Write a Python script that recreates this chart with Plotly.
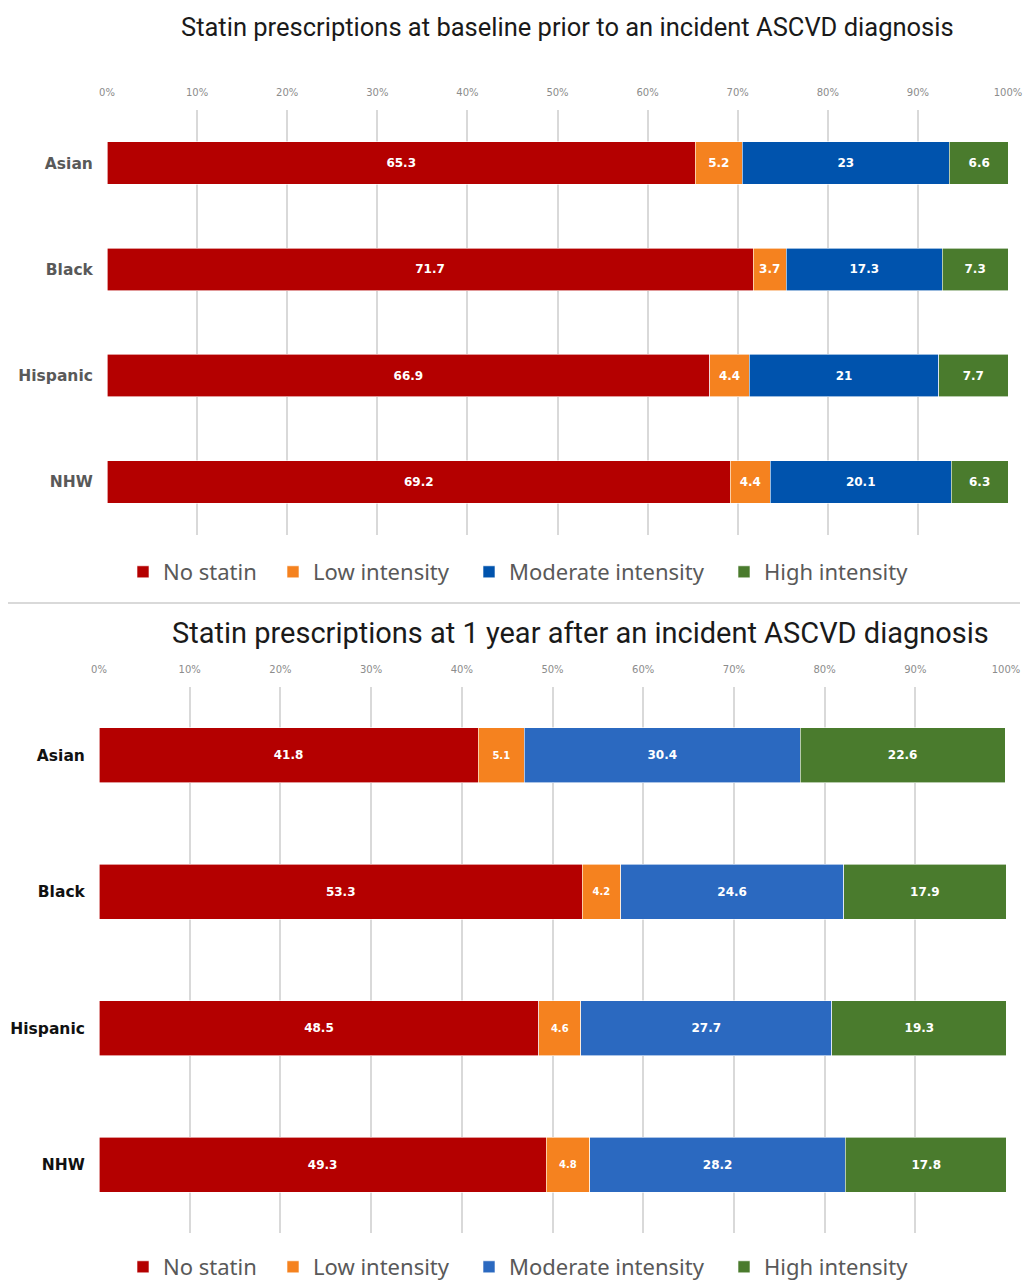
import plotly.graph_objects as go

W, H = 1024, 1283

groups = ["Asian", "Black", "Hispanic", "NHW"]
series_names = ["No statin", "Low intensity", "Moderate intensity", "High intensity"]

# Baseline (prior to incident ASCVD diagnosis), percent
baseline = {
    "No statin": [65.3, 71.7, 66.9, 69.2],
    "Low intensity": [5.2, 3.7, 4.4, 4.4],
    "Moderate intensity": [23, 17.3, 21, 20.1],
    "High intensity": [6.6, 7.3, 7.7, 6.3],
}

# One year after incident ASCVD diagnosis, percent
one_year = {
    "No statin": [41.8, 53.3, 48.5, 49.3],
    "Low intensity": [5.1, 4.2, 4.6, 4.8],
    "Moderate intensity": [30.4, 24.6, 27.7, 28.2],
    "High intensity": [22.6, 17.9, 19.3, 17.8],
}

x_ticks = list(range(0, 101, 10))
x_tick_labels = [f"{t}%" for t in x_ticks]

colors_top = {"No statin": "#b40000", "Low intensity": "#f5821f",
              "Moderate intensity": "#0053ad", "High intensity": "#4a7b2d"}
colors_bottom = {"No statin": "#b40000", "Low intensity": "#f5821f",
                 "Moderate intensity": "#2b69c0", "High intensity": "#4a7b2d"}

title_top = "Statin prescriptions at baseline prior to an incident ASCVD diagnosis"
title_bottom = "Statin prescriptions at 1 year after an incident ASCVD diagnosis"

# left edge (px) of each legend swatch, one legend box per entry
legend_swatch_x = [142, 292, 488, 743]


def px_x(p):
    return p / W


def px_y(p):
    return 1 - p / H


fig = go.Figure()
legend_layout = {}

for panel, (data, colors, xa, ya, leg_y) in enumerate([
        (baseline, colors_top, "x", "y", 572),
        (one_year, colors_bottom, "x2", "y2", 1267)]):
    for i, name in enumerate(series_names):
        leg_key = f"legend{panel * 4 + i + 2}"
        size = 10 if (panel == 1 and name == "Low intensity") else 12
        fig.add_trace(go.Bar(
            y=groups, x=data[name], orientation="h", name=name,
            marker=dict(color=colors[name], line=dict(color="white", width=0.6)),
            text=[f"{v:g}" for v in data[name]],
            textposition="inside", insidetextanchor="middle",
            textfont=dict(family="DejaVu Sans", size=size, color="white",
                          weight="bold"),
            xaxis=xa, yaxis=ya, legend=leg_key, showlegend=True,
        ))
        legend_layout[leg_key] = dict(
            orientation="h", x=px_x(legend_swatch_x[i] - 19), xanchor="left",
            xref="container", yref="container",
            y=px_y(leg_y), yanchor="middle", bgcolor="rgba(0,0,0,0)",
            font=dict(family="Noto Sans", size=22, color="#595959"),
            itemclick=False, itemdoubleclick=False,
        )

common_x = dict(
    range=[0, 100], tickmode="array", tickvals=x_ticks, ticktext=x_tick_labels,
    side="top", showgrid=True, gridcolor="#d9d9d9", gridwidth=1.5,
    zeroline=False, showline=False, ticks="outside", ticklen=9,
    tickcolor="rgba(0,0,0,0)", automargin=False,
    tickfont=dict(family="DejaVu Sans", size=10, color="#8c8c8c"),
    fixedrange=True,
)

common_y = dict(
    autorange="reversed", showgrid=False, zeroline=False, automargin=False,
    ticks="outside", ticklen=10, tickcolor="rgba(0,0,0,0)", fixedrange=True,
)

fig.update_layout(
    width=W, height=H, barmode="stack", bargap=0.6, showlegend=True,
    margin=dict(l=0, r=0, t=0, b=0, autoexpand=False),
    paper_bgcolor="white", plot_bgcolor="white",
    xaxis=dict(domain=[px_x(107), px_x(1008)], anchor="y", **common_x),
    yaxis=dict(domain=[px_y(535), px_y(110)], anchor="x",
               tickfont=dict(family="DejaVu Sans", size=15.5, color="#595959",
                             weight="bold"), **common_y),
    xaxis2=dict(domain=[px_x(99), px_x(1006)], anchor="y2", **common_x),
    yaxis2=dict(domain=[px_y(1233), px_y(687)], anchor="x2",
                tickfont=dict(family="DejaVu Sans", size=15.5, color="#111111",
                              weight="bold"), **common_y),
    annotations=[
        dict(text=title_top, x=px_x(567), y=px_y(27), xref="paper", yref="paper",
             xanchor="center", yanchor="middle", showarrow=False,
             font=dict(family="Roboto", size=25.5, color="#1a1a1a")),
        dict(text=title_bottom, x=px_x(580), y=px_y(633), xref="paper", yref="paper",
             xanchor="center", yanchor="middle", showarrow=False,
             font=dict(family="Roboto", size=29, color="#1a1a1a")),
    ],
    shapes=[
        dict(type="line", xref="paper", yref="paper",
             x0=px_x(8), x1=px_x(1020), y0=px_y(603), y1=px_y(603),
             line=dict(color="#d9d9d9", width=2)),
    ],
    **legend_layout,
)

fig.write_html("out.html")
